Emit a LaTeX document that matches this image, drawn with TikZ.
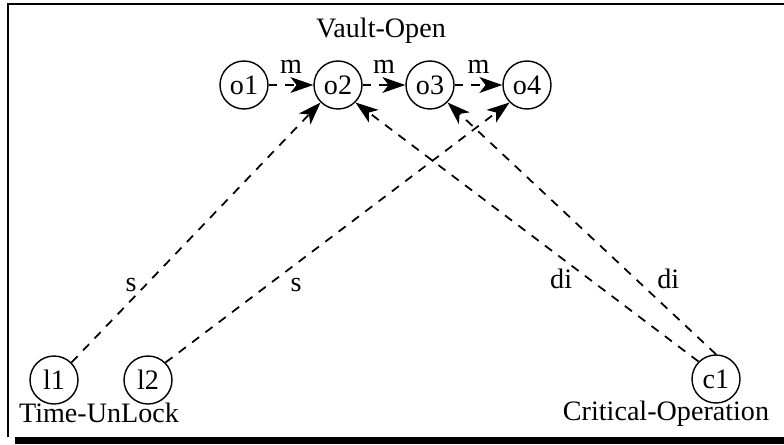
\documentclass[tikz,border=0pt]{standalone}
\usepackage{fontspec}
\setmainfont{Liberation Serif}
\usetikzlibrary{arrows.meta}

\begin{document}
\begin{tikzpicture}[
  state/.style={draw, circle, line width=0.8pt, minimum size=0.96cm, inner sep=0pt, font=\fontsize{16}{18}\selectfont},
  rel/.style={line width=1pt, dash pattern=on 5pt off 4.5pt, -{Stealth[length=13pt,width=9pt,inset=3.5pt]}},
  lbl/.style={font=\fontsize{16}{18}\selectfont, inner sep=1pt},
  title/.style={font=\fontsize{16}{18}\selectfont, inner sep=0.75pt}]
\useasboundingbox (0,0) rectangle (15.68,8.88);
% frame
\draw[line width=0.8pt] (0.16,0.14) -- (0.16,8.80) -- (15.68,8.80);
\fill (0.30,0) rectangle (15.68,0.14);
% top row
\node[state] (o1) at (4.88,7.18) {o1};
\node[state] (o2) at (6.76,7.18) {o2};
\node[state] (o3) at (8.60,7.18) {o3};
\node[state] (o4) at (10.54,7.18) {o4};
\node[title] (vo) at (7.62,8.26) {Vault-Open};
% bottom row
\node[state] (l1) at (1.08,1.28) {l1};
\node[state] (l2) at (2.96,1.28) {l2};
\node[state] (c1) at (14.32,1.30) {c1};
\node[title] (tu) at (1.98,0.62) {Time-UnLock};
\node[title] (co) at (13.32,0.60) {Critical-Operation};
% meets
\draw[rel] (o1) -- node[lbl, above=5pt] {m} (o2);
\draw[rel] (o2) -- node[lbl, above=5pt] {m} (o3);
\draw[rel] (o3) -- node[lbl, above=5pt] {m} (o4);
% starts and during
\draw[rel] (l1.45) -- node[lbl, pos=0.3, left=4pt] {s} (o2.225);
\draw[rel] (l2.45) -- node[lbl, pos=0.3, right=11pt] {s} (o4.225);
\draw[rel] (c1.135) -- node[lbl, pos=0.32, left=8pt] {di} (o2.-45);
\draw[rel] (c1.north) -- node[lbl, pos=0.3, right=11pt] {di} (o3.-45);
\end{tikzpicture}
\end{document}
